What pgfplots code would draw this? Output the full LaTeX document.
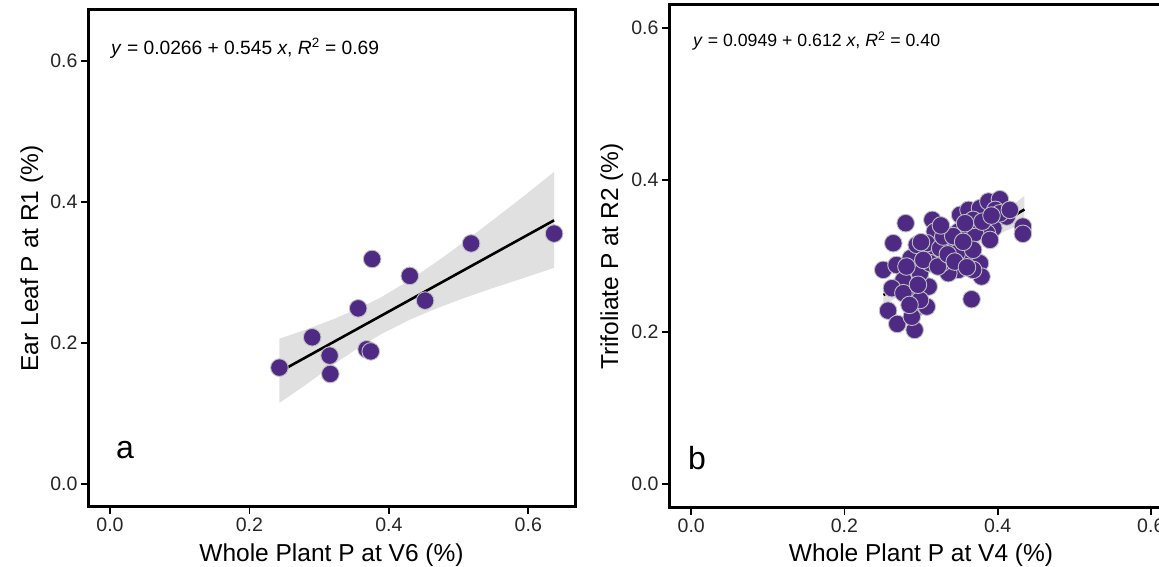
\documentclass[border=0pt]{standalone}
\usepackage{fontspec}
\setmainfont{Liberation Sans}
\usepackage{pgfplots}
\pgfplotsset{compat=1.18}
\usepackage{pgfplotstable}
\definecolor{nwpurple}{HTML}{4E2A84}

% panel a: whole plant P at V6 vs ear leaf P at R1
\pgfplotstableread{
x y
0.243 0.165
0.290 0.208
0.315 0.182
0.316 0.156
0.356 0.249
0.368 0.191
0.374 0.188
0.376 0.319
0.430 0.295
0.452 0.260
0.518 0.341
0.637 0.355
}\ptsA

% 95% band of the fit, upper edge left to right, then lower edge back
\pgfplotstableread{
x y
0.243 0.2060
0.280 0.2185
0.320 0.2335
0.360 0.2505
0.390 0.2654
0.430 0.2891
0.470 0.3160
0.510 0.3448
0.550 0.3748
0.590 0.4054
0.637 0.4425
0.637 0.3065
0.590 0.2910
0.550 0.2780
0.510 0.2644
0.470 0.2496
0.430 0.2329
0.390 0.2130
0.360 0.1956
0.320 0.1690
0.280 0.1400
0.243 0.1150
}\bandA

% panel b: whole plant P at V4 vs trifoliate P at R2
\pgfplotstableread{
x y
0.2507 0.2816
0.2638 0.3167
0.280 0.343
0.268 0.288
0.257 0.228
0.269 0.2105
0.2917 0.2026
0.290 0.2267
0.2856 0.2465
0.3075 0.2333
0.310 0.2596
0.2865 0.297
0.2944 0.3145
0.3148 0.3474
0.318 0.332
0.317 0.299
0.338 0.279
0.340 0.3167
0.331 0.330
0.351 0.354
0.362 0.3605
0.377 0.3627
0.388 0.3715
0.403 0.3745
0.412 0.3517
0.433 0.3386
0.433 0.329
0.3945 0.3364
0.386 0.330
0.3706 0.330
0.3575 0.297
0.377 0.2904
0.379 0.2728
0.366 0.243
0.349 0.2816
0.3357 0.2772
0.327 0.2904
0.316 0.308
0.3075 0.3167
0.2987 0.2772
0.277 0.268
0.262 0.2575
0.277 0.251
0.2987 0.242
0.288 0.220
0.349 0.332
0.368 0.3474
0.397 0.3605
0.403 0.356
0.325 0.310
0.3467 0.3035
0.368 0.308
0.390 0.321
0.368 0.2816
0.312 0.2904
0.3575 0.343
0.416 0.3605
0.281 0.286
0.303 0.2947
0.329 0.3254
0.300 0.318
0.322 0.286
0.342 0.326
0.355 0.3185
0.380 0.345
0.392 0.353
0.335 0.302
0.296 0.262
0.285 0.2355
0.344 0.2925
0.360 0.285
0.326 0.340
}\ptsB

\pgfplotstableread{
x y
0.251 0.2640
0.280 0.2778
0.310 0.2926
0.340 0.3094
0.370 0.3293
0.400 0.3512
0.435 0.3790
0.435 0.3435
0.400 0.3282
0.370 0.3133
0.340 0.2966
0.310 0.2766
0.280 0.2548
0.251 0.2330
}\bandB

\pgfplotsset{
  panel/.style={
    scale only axis, anchor=south west,
    axis line style={line width=3pt},
    xtick={0,0.2,0.4,0.6}, ytick={0,0.2,0.4,0.6},
    xtick pos=left, ytick pos=left,
    tick align=outside, major tick length=7pt,
    tick style={black, line width=1.8pt},
    ticklabel style={font=\fontsize{19.5}{22}\selectfont, text=black!85},
    /pgf/number format/.cd, fixed, fixed zerofill, precision=1, assume math mode=true,
  },
  pts/.style={only marks, mark=*, mark size=8.8pt,
    mark options={fill=nwpurple, draw=gray!50, line width=0.9pt}},
  band/.style={fill=gray!60, fill opacity=0.4, draw=none},
  fit/.style={black, line width=2.6pt},
}

\begin{document}
\begin{tikzpicture}
\begin{axis}[panel, at={(88pt,60pt)}, width=487pt, height=497pt,
  xmin=-0.0316, xmax=0.667, ymin=-0.0326, ymax=0.672]
\addplot[pts] table {\ptsA};
\addplot[band] table {\bandA} -- cycle;
\addplot[fit] coordinates {(0.243,0.1590) (0.637,0.3738)};
\end{axis}

\begin{axis}[panel, at={(669pt,59pt)}, width=504pt, height=503pt,
  xmin=-0.029, xmax=0.629, ymin=-0.0316, ymax=0.630]
\addplot[pts] table {\ptsB};
\addplot[band] table {\bandB} -- cycle;
\addplot[fit] coordinates {(0.251,0.2485) (0.435,0.3611)};
\end{axis}

\begin{scope}[every node/.style={inner sep=0pt}]
\node[anchor=base west, font=\fontsize{19.2}{22}\selectfont] at (111pt,512pt)
  {\textit{y} = 0.0266 + 0.545 \textit{x}, \textit{R}\textsuperscript{2} = 0.69};
\node[anchor=base west, font=\fontsize{17.7}{20}\selectfont] at (693pt,520pt)
  {\textit{y} = 0.0949 + 0.612 \textit{x}, \textit{R}\textsuperscript{2} = 0.40};
\node[anchor=base west, font=\fontsize{32}{36}\selectfont] at (116pt,108pt) {a};
\node[anchor=base west, font=\fontsize{32}{36}\selectfont] at (688pt,97pt) {b};
\node[anchor=base, font=\fontsize{24.5}{28}\selectfont] at (331.5pt,5pt) {Whole Plant P at V6 (\%)};
\node[anchor=base, font=\fontsize{24.5}{28}\selectfont] at (921pt,5pt) {Whole Plant P at V4 (\%)};
\node[anchor=base, rotate=90, font=\fontsize{24.5}{28}\selectfont] at (38pt,308.5pt) {Ear Leaf P at R1 (\%)};
\node[anchor=base, rotate=90, font=\fontsize{24.5}{28}\selectfont] at (618pt,310.5pt) {Trifoliate P at R2 (\%)};
\end{scope}

\pgfresetboundingbox
\useasboundingbox (0pt,0pt) rectangle (1159pt,567pt);
\end{tikzpicture}
\end{document}
